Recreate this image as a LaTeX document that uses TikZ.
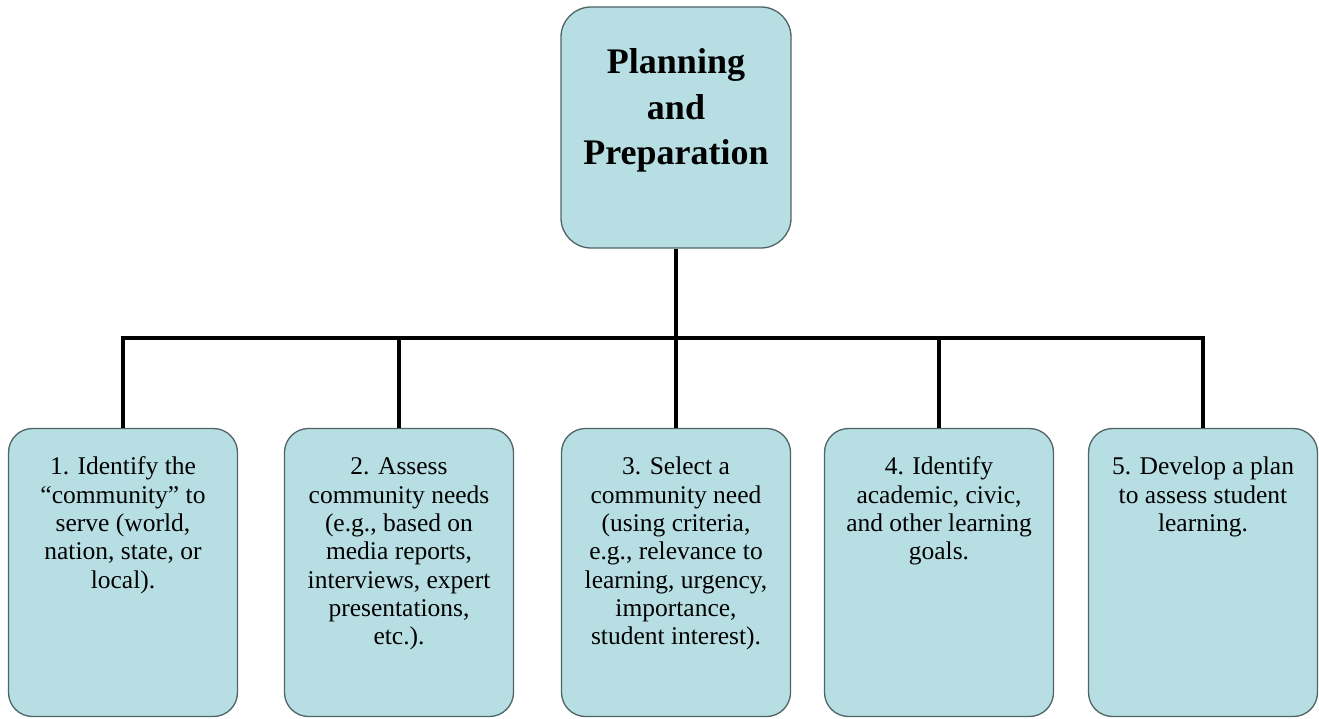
\documentclass[tikz,border=0pt]{standalone}
\usepackage{fontspec}
\setmainfont{Liberation Serif}
\usetikzlibrary{positioning}
\definecolor{boxfill}{HTML}{B7DFE3}
\definecolor{boxline}{HTML}{4F6464}
\newcommand{\steptext}[1]{\parbox[t][235pt][t]{224pt}{\centering\strut #1}}
\tikzset{
  stepbox/.style={draw=boxline, fill=boxfill, line width=1.3pt, rounded corners=24pt,
    minimum width=229pt, minimum height=288pt, inner sep=0pt,
    font=\fontsize{25.5}{28.3}\selectfont},
  headbox/.style={draw=boxline, fill=boxfill, line width=1.3pt, rounded corners=30pt,
    minimum width=230pt, minimum height=241pt, inner sep=0pt,
    font=\fontsize{36}{45.5}\selectfont\bfseries},
  link/.style={line width=4.8pt, line cap=butt}
}
\begin{document}
\begin{tikzpicture}[x=1pt,y=-1pt]
  \useasboundingbox (0,0) rectangle (1319,719);
  \node[headbox] (plan) at (676,127.5)
    {\parbox[t][171pt][t]{224pt}{\centering\strut Planning\\ and\\ Preparation}};
  %the five steps
  \node[stepbox] (s1) at (123,572.5) {\steptext{1. Identify the\\ ``community'' to\\ serve (world,\\ nation, state, or\\ local).}};
  \node[stepbox] (s2) at (399,572.5) {\steptext{2. Assess\\ community needs\\ (e.g., based on\\ media reports,\\ interviews, expert\\ presentations,\\ etc.).}};
  \node[stepbox] (s3) at (676,572.5) {\steptext{3. Select a\\ community need\\ (using criteria,\\ e.g., relevance to\\ learning, urgency,\\ importance,\\ student interest).}};
  \node[stepbox] (s4) at (939,572.5) {\steptext{4. Identify\\ academic, civic,\\ and other learning\\ goals.}};
  \node[stepbox] (s5) at (1203,572.5) {\steptext{5. Develop a plan\\ to assess student\\ learning.}};
  %connectors
  \coordinate (bar) at (0,338);
  \draw[link] (plan.south) -- (plan.south |- bar);
  \draw[link] ([xshift=-2.4pt]s1.north |- bar) -- ([xshift=2.4pt]s5.north |- bar);
  \foreach \s in {s1,s2,s3,s4,s5}
    \draw[link] (\s.north) -- (\s.north |- bar);
\end{tikzpicture}
\end{document}
